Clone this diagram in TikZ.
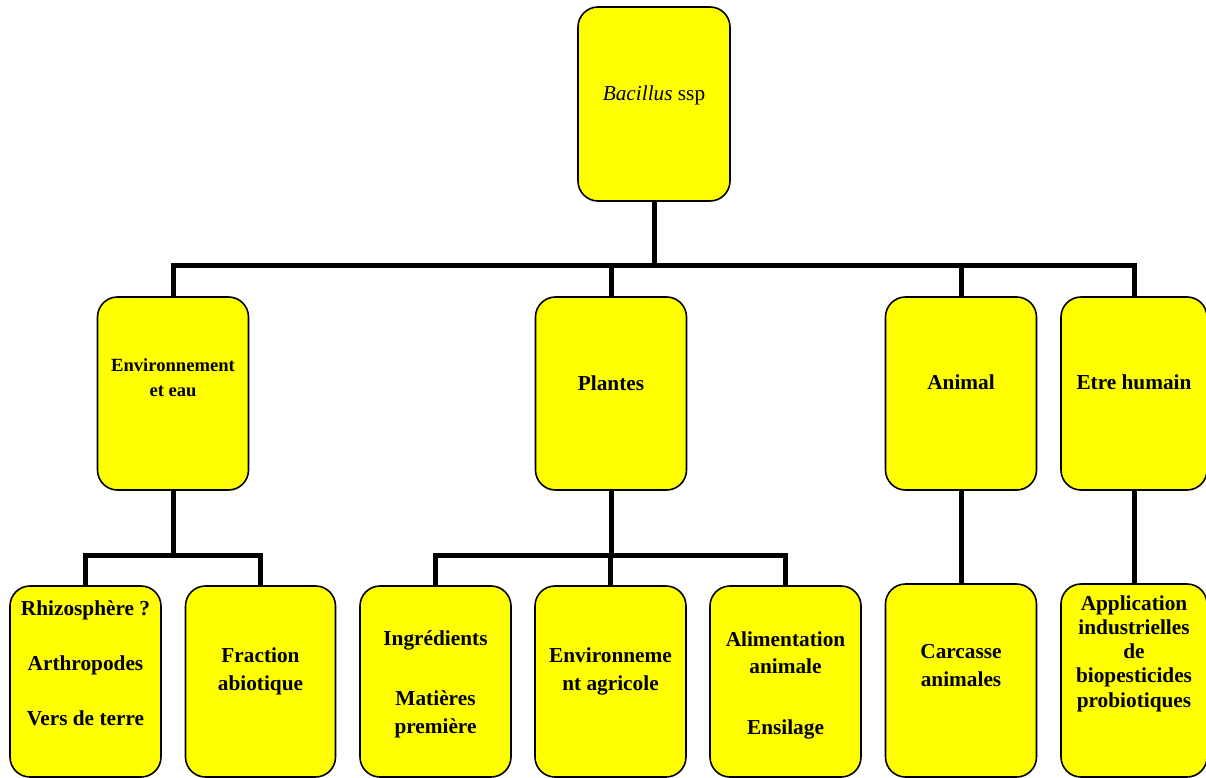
\documentclass[tikz,border=0pt]{standalone}
\usepackage{fontspec}
\setmainfont{Liberation Serif}[BoldFont={Liberation Serif Bold}, ItalicFont={Liberation Serif Italic}]
\begin{document}
\begin{tikzpicture}[x=1pt,y=-1pt,
  box/.style={draw=black, line width=1.6pt, fill={rgb,255:red,255;green,255;blue,0}, rounded corners=20pt, inner sep=0pt},
  conn/.style={draw=black, line width=5pt},
  lbl/.style={align=center, inner sep=0pt, font=\fontsize{21.3}{27.5}\selectfont\bfseries}
]
\useasboundingbox (0,0) rectangle (1206,778);
% boxes
\node[box, minimum width=152pt, minimum height=194pt] (top) at (654,104) {};
\node[box, minimum width=151pt, minimum height=193pt] (env) at (173,393.5) {};
\node[box, minimum width=151pt, minimum height=193pt] (pla) at (611,393.5) {};
\node[box, minimum width=151pt, minimum height=193pt] (ani) at (961,393.5) {};
\node[box, minimum width=146pt, minimum height=193pt] (hum) at (1134,393.5) {};
\node[box, minimum width=151pt, minimum height=191pt] (rhi) at (85.5,681.5) {};
\node[box, minimum width=150pt, minimum height=191pt] (fra) at (260.5,681.5) {};
\node[box, minimum width=151pt, minimum height=191pt] (ing) at (435.5,681.5) {};
\node[box, minimum width=151pt, minimum height=191pt] (agr) at (610.5,681.5) {};
\node[box, minimum width=151pt, minimum height=191pt] (ali) at (785.5,681.5) {};
\node[box, minimum width=151pt, minimum height=193pt] (car) at (961,680.5) {};
\node[box, minimum width=146pt, minimum height=193pt] (app) at (1134,680.5) {};
% bars
\coordinate (bar) at (654,265);
\coordinate (barE) at (173,555);
\coordinate (barP) at (611,555);
% connectors
\draw[conn] (top.south) -- (top.south |- bar);
\draw[conn] (env.north) -- (env.north |- bar) -- (hum.north |- bar) -- (hum.north);
\draw[conn] (pla.north) -- (pla.north |- bar);
\draw[conn] (ani.north) -- (ani.north |- bar);
\draw[conn] (env.south) -- (barE);
\draw[conn] (rhi.north) -- (rhi.north |- barE) -- (fra.north |- barE) -- (fra.north);
\draw[conn] (pla.south) -- (barP);
\draw[conn] (ing.north) -- (ing.north |- barP) -- (ali.north |- barP) -- (ali.north);
\draw[conn] (agr.north) -- (agr.north |- barP);
\draw[conn] (ani.south) -- (car.north);
\draw[conn] (hum.south) -- (app.north);
% labels
\node[lbl, font=\fontsize{21.3}{27.5}\selectfont] (ttop) at (654,95) {\textit{Bacillus} ssp};
\node[lbl, font=\fontsize{18.6}{25}\selectfont\bfseries] (tenv) at (173,377.5) {Environnement\\et eau};
\node[lbl] (tpla) at (611,383) {Plantes};
\node[lbl] (tani) at (961,382) {Animal};
\node[lbl] (thum) at (1134,382) {Etre humain};
\node[lbl] (trhi) at (85.5,663) {Rhizosphère ?\\[27.5pt]Arthropodes\\[27.5pt]Vers de terre};
\node[lbl, font=\fontsize{21.3}{28}\selectfont\bfseries] (tfra) at (260.5,671) {Fraction\\abiotique};
\node[lbl, font=\fontsize{21.3}{28}\selectfont\bfseries] (ting) at (435.5,684) {Ingrédients\\[32pt]Matières\\première};
\node[lbl, font=\fontsize{21.3}{28}\selectfont\bfseries] (tagr) at (610.5,671) {Environneme\\nt agricole};
\node[lbl, font=\fontsize{21.3}{27}\selectfont\bfseries] (tali) at (785.5,685) {Alimentation\\animale\\[34pt]Ensilage};
\node[lbl, font=\fontsize{21.3}{28}\selectfont\bfseries] (tcar) at (961,666) {Carcasse\\animales};
\node[lbl, font=\fontsize{21.3}{24.3}\selectfont\bfseries] (tapp) at (1134,653.5) {Application\\industrielles\\de\\biopesticides\\probiotiques};
\end{tikzpicture}
\end{document}
